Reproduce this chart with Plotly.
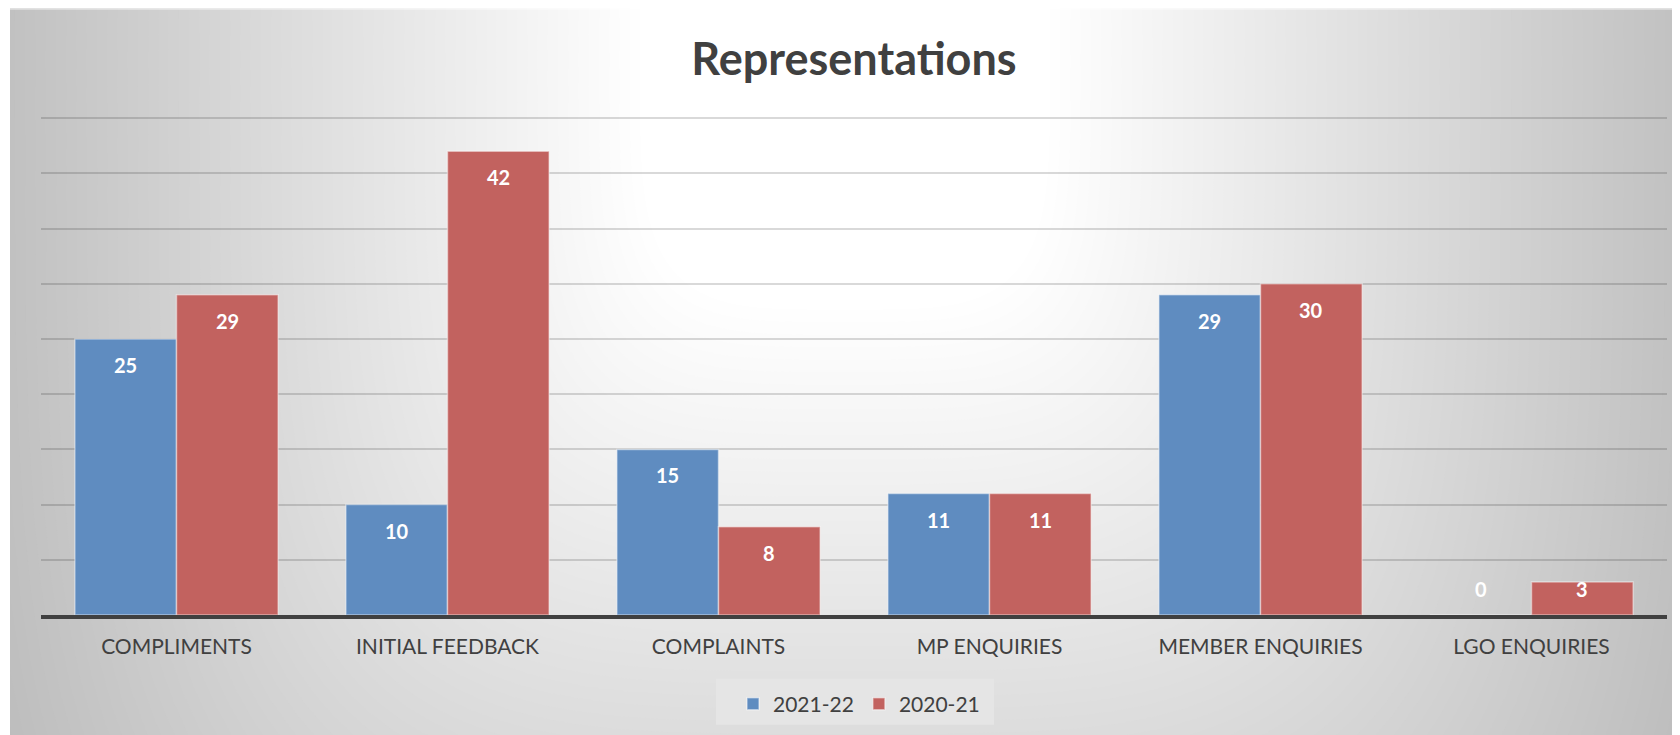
import math
import plotly.graph_objects as go

categories = ["COMPLIMENTS", "INITIAL FEEDBACK", "COMPLAINTS", "MP ENQUIRIES", "MEMBER ENQUIRIES", "LGO ENQUIRIES"]
values_2122 = [25, 10, 15, 11, 29, 0]
values_2021 = [29, 42, 8, 11, 30, 3]
series_names = ["2021-22", "2020-21"]
title_text = "Representations"

# the page body adds an 8px margin, so the figure is laid out 8px smaller
W, H = 1672, 727
Y_TOP = 45
Y_MAX = 45.2
unit = 498 / Y_TOP
L, R = 33, 13
B = 119
plot_h = round(unit * Y_MAX)
T = H - B - plot_h
plot_w = W - L - R
FONT = "Lato"
TXT = "#404040"

def px_x(p):
    return (p - L) / plot_w

def px_y(p):
    return (H - B - p) / plot_h

fig = go.Figure()
colors = ["#5f8cc0", "#c2625f"]
for name, vals, col in zip(series_names, [values_2122, values_2021], colors):
    fig.add_trace(go.Bar(
        name=name, x=categories, y=vals,
        marker=dict(color=col, line=dict(color="rgba(255,255,255,0.45)", width=1.5)),
    ))

# background gradient via stacked super-ellipses (bright at top centre)
shapes = []
cx, cy = 837, 52
rx0, ry0 = 820, 1000
pw = 4.0
def superellipse(scale):
    pts = []
    n = 90
    for k in range(n):
        t = 2 * math.pi * k / n
        ct, st = math.cos(t), math.sin(t)
        x = cx + scale * rx0 * math.copysign(abs(ct) ** (2 / pw), ct)
        y = cy + scale * ry0 * math.copysign(abs(st) ** (2 / pw), st)
        pts.append((px_x(x), px_y(y)))
    return "M " + " L ".join(f"{a:.5f},{b:.5f}" for a, b in pts) + " Z"

levels = [1.45 - 0.0125 * i for i in range(97)]
for d in levels:
    c = int(round(max(0, min(255, 255 - 80 * max(0.0, d - 0.25)))))
    shapes.append(dict(type="path", xref="paper", yref="paper", layer="below",
                       path=superellipse(d), fillcolor=f"rgb({c},{c},{c})",
                       line=dict(width=0)))
# white strip at the far left (chart area starts 2px into the figure)
shapes.append(dict(type="rect", xref="paper", yref="paper", layer="below",
                   x0=px_x(-5), x1=px_x(2), y0=px_y(740), y1=px_y(-5),
                   fillcolor="white", line=dict(width=0)))
shapes.append(dict(type="line", xref="paper", yref="paper", layer="below",
                   x0=px_x(2), x1=px_x(1690), y0=px_y(0.5), y1=px_y(0.5),
                   line=dict(color="rgba(255,255,255,0.5)", width=2)))
# legend box
shapes.append(dict(type="rect", xref="paper", yref="paper", layer="below",
                   x0=px_x(708), x1=px_x(986), y0=px_y(718), y1=px_y(672),
                   fillcolor="#e5e5e5", line=dict(width=0)))

# data labels
off = 26 / unit
cat_w = plot_w / len(categories)
bar_w = cat_w * 0.75 / 2
annotations = []
for vals, shift in [(values_2122, -bar_w / 2), (values_2021, bar_w / 2)]:
    for cat, v in zip(categories, vals):
        annotations.append(dict(
            x=cat, y=max(v - off, off), xref="x", yref="y",
            text=str(v), showarrow=False, xshift=shift, yanchor="middle",
            font=dict(family=FONT, size=20, color="white", weight="bold"),
        ))

fig.update_layout(
    width=W, height=H,
    margin=dict(l=L, r=R, t=T, b=B),
    paper_bgcolor="white",
    plot_bgcolor="rgba(0,0,0,0)",
    barmode="group", bargap=0.25, bargroupgap=0,
    title=dict(text=title_text, x=px_x(846), xanchor="center", y=1 - 51 / H, yanchor="middle",
               xref="paper", yref="container",
               font=dict(family=FONT, size=45, color=TXT, weight="bold")),
    font=dict(family=FONT, color=TXT),
    legend=dict(orientation="h", x=px_x(851), xanchor="center", y=px_y(696), yanchor="middle",
                bgcolor="rgba(0,0,0,0)", font=dict(family=FONT, size=21, color=TXT),
                traceorder="normal"),
    shapes=shapes,
    annotations=annotations,
    showlegend=True,
)
fig.update_xaxes(showline=True, linecolor="#404040", linewidth=4, ticks="",
                 tickfont=dict(family=FONT, size=21, color=TXT), ticklabelstandoff=10,
                 showgrid=False)
fig.update_yaxes(range=[0, Y_MAX], tickvals=list(range(5, Y_TOP + 1, 5)), showticklabels=False,
                 showgrid=True, gridcolor="rgba(0,0,0,0.15)", gridwidth=2, zeroline=False)

fig.write_html("out.html")
